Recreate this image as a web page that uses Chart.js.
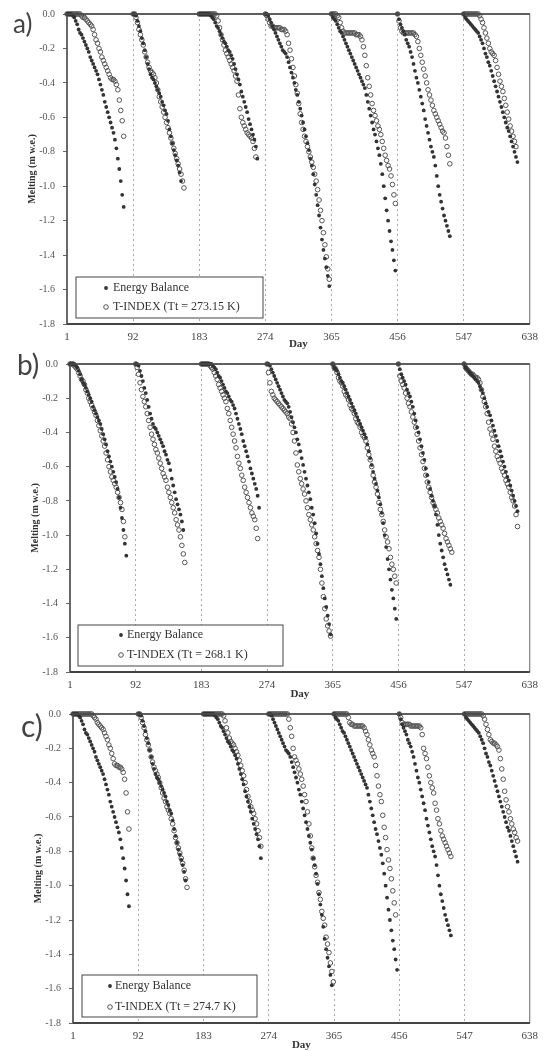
<!DOCTYPE html>
<html>
<head>
<meta charset="utf-8">
<script src="https://cdn.jsdelivr.net/npm/chart.js@4.4.1/dist/chart.umd.min.js"></script>
<style>
  body { margin: 0; background: #fff; width: 545px; height: 1051px; position: relative; overflow: hidden; }
  .panel { position: absolute; left: 0; width: 545px; }
  .tag { position: absolute; font-family: Lato, sans-serif; line-height: 1; color: #444; }
</style>
</head>
<body>
<div class="panel" style="top:0;height:350px"><canvas id="chartA"></canvas></div>
<div class="panel" style="top:350px;height:350px"><canvas id="chartB"></canvas></div>
<div class="panel" style="top:700px;height:351px"><canvas id="chartC"></canvas></div>
<div class="tag" style="left:13px;top:10px;font-size:26px">a)</div>
<div class="tag" style="left:17px;top:350px;font-size:28px">b)</div>
<div class="tag" style="left:21px;top:710px;font-size:30px">c)</div>

<script>
// first day of each melt season on the cumulative day axis
const seasonStart = [1, 92, 183, 274, 365, 456, 547]
// values below are read every 2 days from the season start
const dayStep = 2
const xTicks = [1, 92, 183, 274, 365, 456, 547, 638]

// Energy Balance melting (m w.e.), same in all three panels
const energyBalance = [
  [0, 0, 0, 0, -0.01, -0.02, -0.04, -0.06, -0.09, -0.11, -0.12, -0.14, -0.16, -0.18, -0.20, -0.22, -0.25, -0.27, -0.29, -0.31, -0.33, -0.35, -0.38, -0.41, -0.44, -0.47, -0.51, -0.54, -0.57, -0.60, -0.63, -0.66, -0.69, -0.73, -0.78, -0.84, -0.90, -0.97, -1.05, -1.12],
  [0, 0, -0.01, -0.04, -0.07, -0.10, -0.14, -0.17, -0.21, -0.25, -0.29, -0.32, -0.35, -0.37, -0.38, -0.40, -0.42, -0.44, -0.46, -0.48, -0.51, -0.53, -0.56, -0.58, -0.62, -0.67, -0.71, -0.75, -0.79, -0.82, -0.85, -0.88, -0.92, -0.97],
  [0, 0, 0, 0, 0, 0, 0, 0, -0.01, -0.02, -0.03, -0.05, -0.07, -0.08, -0.10, -0.12, -0.14, -0.16, -0.17, -0.19, -0.21, -0.22, -0.24, -0.26, -0.29, -0.32, -0.35, -0.38, -0.41, -0.45, -0.48, -0.51, -0.54, -0.57, -0.61, -0.64, -0.67, -0.70, -0.73, -0.77, -0.84],
  [0, 0, -0.01, -0.03, -0.05, -0.07, -0.09, -0.11, -0.13, -0.15, -0.17, -0.19, -0.21, -0.22, -0.23, -0.25, -0.28, -0.31, -0.34, -0.37, -0.40, -0.44, -0.47, -0.51, -0.55, -0.59, -0.63, -0.67, -0.71, -0.75, -0.79, -0.84, -0.88, -0.93, -0.99, -1.05, -1.11, -1.17, -1.24, -1.31, -1.37, -1.42, -1.47, -1.52, -1.58],
  [0, -0.02, -0.03, -0.04, -0.06, -0.08, -0.10, -0.11, -0.13, -0.15, -0.17, -0.19, -0.21, -0.23, -0.25, -0.27, -0.29, -0.31, -0.33, -0.35, -0.37, -0.39, -0.41, -0.43, -0.47, -0.51, -0.55, -0.59, -0.63, -0.67, -0.70, -0.74, -0.78, -0.82, -0.87, -0.93, -1.00, -1.07, -1.14, -1.20, -1.26, -1.32, -1.37, -1.43, -1.49],
  [0, -0.03, -0.06, -0.08, -0.10, -0.12, -0.15, -0.17, -0.19, -0.22, -0.25, -0.29, -0.33, -0.37, -0.40, -0.44, -0.48, -0.52, -0.56, -0.61, -0.65, -0.69, -0.73, -0.77, -0.80, -0.83, -0.88, -0.94, -1.00, -1.05, -1.09, -1.13, -1.17, -1.20, -1.23, -1.26, -1.29],
  [0, -0.02, -0.03, -0.04, -0.05, -0.06, -0.07, -0.08, -0.09, -0.10, -0.11, -0.13, -0.15, -0.17, -0.20, -0.23, -0.25, -0.28, -0.30, -0.33, -0.36, -0.39, -0.42, -0.45, -0.48, -0.51, -0.54, -0.57, -0.60, -0.63, -0.66, -0.68, -0.71, -0.74, -0.77, -0.80, -0.83, -0.86]
]

// T-INDEX, Tt = 273.15 K
const tIndexA = [
  [0, 0, 0, 0, 0, 0, 0, 0, 0, 0, -0.01, -0.02, -0.02, -0.03, -0.04, -0.05, -0.06, -0.07, -0.09, -0.12, -0.15, -0.17, -0.20, -0.22, -0.25, -0.27, -0.29, -0.31, -0.33, -0.35, -0.37, -0.38, -0.38, -0.39, -0.41, -0.44, -0.50, -0.56, -0.62, -0.71],
  [0, 0, -0.02, -0.05, -0.09, -0.12, -0.15, -0.18, -0.22, -0.25, -0.28, -0.31, -0.33, -0.34, -0.35, -0.37, -0.40, -0.44, -0.48, -0.51, -0.54, -0.57, -0.60, -0.63, -0.66, -0.69, -0.72, -0.75, -0.78, -0.81, -0.84, -0.87, -0.90, -0.93, -0.97, -1.01],
  [0, 0, 0, 0, 0, 0, 0, 0, 0, 0, 0, 0, -0.01, -0.04, -0.08, -0.12, -0.15, -0.18, -0.21, -0.23, -0.25, -0.27, -0.29, -0.31, -0.33, -0.36, -0.39, -0.47, -0.55, -0.60, -0.63, -0.65, -0.67, -0.69, -0.70, -0.71, -0.72, -0.74, -0.78, -0.83],
  [0, -0.01, -0.03, -0.05, -0.07, -0.07, -0.08, -0.08, -0.08, -0.08, -0.08, -0.09, -0.09, -0.09, -0.10, -0.12, -0.17, -0.21, -0.26, -0.31, -0.36, -0.41, -0.46, -0.52, -0.58, -0.63, -0.67, -0.71, -0.74, -0.77, -0.80, -0.83, -0.86, -0.89, -0.93, -0.97, -1.02, -1.08, -1.14, -1.20, -1.27, -1.34, -1.41, -1.48, -1.54],
  [0, 0, 0, 0, -0.01, -0.02, -0.05, -0.08, -0.10, -0.11, -0.11, -0.11, -0.11, -0.11, -0.11, -0.11, -0.11, -0.12, -0.12, -0.12, -0.13, -0.15, -0.19, -0.24, -0.30, -0.37, -0.42, -0.47, -0.52, -0.56, -0.59, -0.62, -0.65, -0.67, -0.70, -0.74, -0.78, -0.82, -0.85, -0.88, -0.90, -0.94, -0.99, -1.05, -1.10],
  [0, -0.04, -0.08, -0.10, -0.11, -0.11, -0.11, -0.11, -0.11, -0.11, -0.11, -0.11, -0.12, -0.13, -0.16, -0.20, -0.24, -0.28, -0.32, -0.36, -0.40, -0.44, -0.47, -0.50, -0.53, -0.56, -0.58, -0.60, -0.62, -0.64, -0.66, -0.68, -0.69, -0.72, -0.77, -0.82, -0.87],
  [0, 0, 0, 0, 0, 0, 0, 0, 0, 0, 0, -0.01, -0.03, -0.05, -0.08, -0.11, -0.14, -0.17, -0.20, -0.22, -0.23, -0.24, -0.27, -0.31, -0.35, -0.39, -0.42, -0.45, -0.49, -0.53, -0.57, -0.61, -0.65, -0.68, -0.71, -0.74, -0.77]
]

// T-INDEX, Tt = 268.1 K
const tIndexB = [
  [0, 0, 0, -0.01, -0.02, -0.03, -0.05, -0.07, -0.09, -0.10, -0.12, -0.15, -0.17, -0.20, -0.22, -0.24, -0.26, -0.28, -0.30, -0.33, -0.36, -0.39, -0.42, -0.45, -0.48, -0.52, -0.56, -0.60, -0.63, -0.66, -0.68, -0.70, -0.72, -0.75, -0.78, -0.81, -0.85, -0.92, -1.01],
  [0, -0.02, -0.06, -0.11, -0.15, -0.19, -0.22, -0.25, -0.29, -0.33, -0.37, -0.41, -0.44, -0.47, -0.50, -0.52, -0.55, -0.58, -0.61, -0.64, -0.66, -0.68, -0.72, -0.75, -0.78, -0.81, -0.84, -0.87, -0.91, -0.94, -0.97, -1.01, -1.06, -1.11, -1.16],
  [0, 0, 0, 0, 0, 0, -0.01, -0.02, -0.03, -0.05, -0.07, -0.09, -0.12, -0.14, -0.16, -0.18, -0.20, -0.22, -0.26, -0.29, -0.33, -0.37, -0.41, -0.45, -0.49, -0.54, -0.58, -0.61, -0.65, -0.68, -0.72, -0.75, -0.78, -0.81, -0.84, -0.87, -0.89, -0.91, -0.96, -1.02],
  [0, -0.05, -0.11, -0.16, -0.18, -0.20, -0.21, -0.22, -0.23, -0.24, -0.25, -0.26, -0.27, -0.28, -0.29, -0.31, -0.32, -0.35, -0.40, -0.45, -0.52, -0.59, -0.63, -0.67, -0.70, -0.73, -0.76, -0.80, -0.84, -0.88, -0.91, -0.94, -0.97, -1.01, -1.05, -1.09, -1.13, -1.20, -1.28, -1.36, -1.43, -1.49, -1.53, -1.56, -1.59],
  [0, -0.02, -0.03, -0.05, -0.08, -0.10, -0.11, -0.13, -0.16, -0.18, -0.19, -0.21, -0.24, -0.26, -0.27, -0.29, -0.32, -0.34, -0.35, -0.37, -0.40, -0.42, -0.43, -0.45, -0.49, -0.53, -0.56, -0.60, -0.65, -0.69, -0.72, -0.76, -0.81, -0.85, -0.88, -0.92, -0.97, -1.01, -1.04, -1.08, -1.13, -1.17, -1.20, -1.24, -1.28],
  [0, -0.07, -0.10, -0.12, -0.14, -0.17, -0.20, -0.23, -0.25, -0.28, -0.31, -0.34, -0.37, -0.41, -0.45, -0.49, -0.53, -0.57, -0.61, -0.65, -0.69, -0.72, -0.75, -0.78, -0.81, -0.83, -0.85, -0.87, -0.90, -0.92, -0.94, -0.96, -0.99, -1.02, -1.04, -1.06, -1.08, -1.10],
  [0, -0.02, -0.03, -0.04, -0.05, -0.06, -0.06, -0.07, -0.08, -0.08, -0.09, -0.11, -0.15, -0.19, -0.22, -0.25, -0.29, -0.34, -0.38, -0.41, -0.44, -0.48, -0.51, -0.54, -0.56, -0.58, -0.61, -0.63, -0.65, -0.68, -0.70, -0.72, -0.75, -0.78, -0.80, -0.83, -0.88, -0.95]
]

// T-INDEX, Tt = 274.7 K
const tIndexC = [
  [0, 0, 0, 0, 0, 0, 0, 0, 0, 0, 0, 0, 0, 0, -0.01, -0.02, -0.03, -0.05, -0.06, -0.07, -0.08, -0.09, -0.11, -0.13, -0.15, -0.18, -0.20, -0.23, -0.26, -0.29, -0.30, -0.30, -0.31, -0.31, -0.32, -0.34, -0.38, -0.46, -0.57, -0.67],
  [0, 0, -0.02, -0.05, -0.08, -0.12, -0.15, -0.18, -0.21, -0.25, -0.28, -0.31, -0.33, -0.35, -0.37, -0.40, -0.43, -0.46, -0.49, -0.51, -0.54, -0.56, -0.58, -0.61, -0.64, -0.68, -0.72, -0.75, -0.78, -0.81, -0.84, -0.87, -0.91, -0.96, -1.01],
  [0, 0, 0, 0, 0, 0, 0, 0, 0, 0, 0, 0, 0, 0, -0.01, -0.04, -0.08, -0.11, -0.14, -0.16, -0.17, -0.18, -0.20, -0.22, -0.24, -0.27, -0.30, -0.33, -0.36, -0.40, -0.44, -0.48, -0.51, -0.54, -0.56, -0.58, -0.61, -0.64, -0.68, -0.72, -0.77],
  [0, 0, 0, 0, 0, 0, 0, 0, 0, 0, 0, 0, 0, 0, -0.03, -0.08, -0.13, -0.20, -0.25, -0.27, -0.29, -0.32, -0.35, -0.38, -0.42, -0.47, -0.51, -0.57, -0.64, -0.71, -0.78, -0.84, -0.89, -0.94, -0.98, -1.04, -1.08, -1.15, -1.19, -1.23, -1.30, -1.34, -1.39, -1.45, -1.50, -1.56],
  [0, 0, 0, 0, 0, 0, 0, 0, 0, 0, -0.02, -0.05, -0.06, -0.06, -0.07, -0.07, -0.07, -0.07, -0.07, -0.07, -0.07, -0.08, -0.10, -0.12, -0.15, -0.18, -0.21, -0.23, -0.25, -0.30, -0.36, -0.42, -0.47, -0.51, -0.59, -0.66, -0.72, -0.79, -0.85, -0.90, -0.96, -1.03, -1.10, -1.17],
  [0, -0.02, -0.05, -0.06, -0.06, -0.06, -0.06, -0.06, -0.07, -0.07, -0.07, -0.07, -0.07, -0.07, -0.07, -0.08, -0.12, -0.20, -0.23, -0.26, -0.31, -0.36, -0.40, -0.43, -0.46, -0.52, -0.56, -0.61, -0.64, -0.68, -0.71, -0.73, -0.75, -0.77, -0.79, -0.81, -0.83],
  [0, 0, 0, 0, 0, 0, 0, 0, 0, 0, 0, 0, 0, -0.01, -0.03, -0.06, -0.09, -0.12, -0.15, -0.16, -0.17, -0.17, -0.18, -0.19, -0.21, -0.26, -0.32, -0.38, -0.45, -0.50, -0.54, -0.57, -0.61, -0.64, -0.67, -0.69, -0.72, -0.74]
]

const ebLabel = 'Energy Balance'
const tLabels = ['T-INDEX (Tt = 273.15 K)', 'T-INDEX (Tt = 268.1 K)', 'T-INDEX (Tt = 274.7 K)']

function toPoints(seasons) {
  const pts = []
  seasons.forEach((vals, s) => {
    vals.forEach((v, i) => pts.push({ x: seasonStart[s] + i * dayStep, y: v }))
  })
  return pts
}

// plot frame drawn around the chart area
const frame = {
  id: 'frame',
  afterDraw(chart) {
    const { ctx, chartArea: a } = chart
    ctx.save()
    ctx.strokeStyle = '#666'
    ctx.lineWidth = 1
    ctx.strokeRect(a.left, a.top, a.right - a.left, a.bottom - a.top)
    ctx.strokeStyle = '#444'
    ctx.lineWidth = 2
    ctx.beginPath()
    ctx.moveTo(a.left, a.bottom)
    ctx.lineTo(a.right, a.bottom)
    ctx.stroke()
    ctx.lineWidth = 1.3
    ctx.beginPath()
    ctx.moveTo(a.left, a.top)
    ctx.lineTo(a.left, a.bottom)
    ctx.moveTo(a.left, a.top)
    ctx.lineTo(a.right, a.top)
    ctx.stroke()
    ctx.restore()
  }
}

// boxed legend in the lower left corner of the plot
const boxLegend = {
  id: 'boxLegend',
  afterDraw(chart, args, o) {
    const { ctx, chartArea: a } = chart
    const x0 = a.left + o.dx
    const y0 = a.bottom - o.dy
    ctx.save()
    ctx.fillStyle = '#fff'
    ctx.fillRect(x0, y0, o.w, o.h)
    ctx.strokeStyle = '#444'
    ctx.lineWidth = 1
    ctx.strokeRect(x0, y0, o.w, o.h)
    ctx.font = '12px "Liberation Serif"'
    ctx.textBaseline = 'middle'
    chart.data.datasets.forEach((ds, i) => {
      const y = y0 + o.rows[i]
      ctx.beginPath()
      ctx.arc(x0 + o.mx, y, ds.pointRadius, 0, Math.PI * 2)
      if (i === 0) {
        ctx.fillStyle = ds.backgroundColor
        ctx.fill()
      } else {
        ctx.strokeStyle = ds.borderColor
        ctx.lineWidth = ds.borderWidth
        ctx.stroke()
      }
      ctx.fillStyle = '#333'
      ctx.fillText(ds.label, x0 + o.tx, y)
    })
    ctx.restore()
  }
}

function makePanel(id, tIndex, tLabel, pad, legend) {
  const ctx = document.getElementById(id).getContext('2d')
  return new Chart(ctx, {
    type: 'scatter',
    data: {
      datasets: [
        {
          label: ebLabel,
          data: toPoints(energyBalance),
          pointRadius: 1.9,
          pointBorderWidth: 0,
          backgroundColor: '#333',
          borderColor: '#333',
          clip: false
        },
        {
          label: tLabel,
          data: toPoints(tIndex),
          pointRadius: 2.3,
          borderWidth: 1,
          borderColor: '#555',
          backgroundColor: 'rgba(255,255,255,0)',
          clip: false
        }
      ]
    },
    options: {
      responsive: true,
      maintainAspectRatio: false,
      animation: false,
      events: [],
      layout: { padding: pad },
      plugins: {
        legend: { display: false },
        tooltip: { enabled: false },
        boxLegend: legend
      },
      scales: {
        x: {
          type: 'linear',
          min: 1,
          max: 638,
          afterFit: (s) => { s.height = pad.axisH },
          afterBuildTicks: (s) => { s.ticks = xTicks.map(v => ({ value: v })) },
          grid: {
            drawTicks: false,
            color: (c) => (c.tick && (c.tick.value === 1 || c.tick.value === 638)) ? 'rgba(0,0,0,0)' : '#aaa',
            lineWidth: 1
          },
          border: { display: false, dash: [2, 3] },
          ticks: {
            autoSkip: false,
            maxRotation: 0,
            padding: 7,
            color: '#444',
            font: { family: 'Liberation Serif', size: 11 }
          },
          title: {
            display: true,
            text: 'Day',
            color: '#333',
            padding: { top: 0, bottom: 0 },
            font: { family: 'Liberation Serif', size: 11, weight: 'bold', lineHeight: 1.1 }
          }
        },
        y: {
          min: -1.8,
          max: 0,
          afterFit: (s) => { s.width = 45 },
          grid: { drawOnChartArea: false, drawTicks: true, tickLength: 4, color: '#666' },
          border: { display: false },
          ticks: {
            stepSize: 0.2,
            padding: 8,
            color: '#555',
            font: { family: 'Liberation Serif', size: 10 },
            callback: (v) => v.toFixed(1)
          },
          title: {
            display: true,
            text: 'Melting (m w.e.)',
            color: '#333',
            padding: { top: 4, bottom: 0 },
            font: { family: 'Liberation Serif', size: 10, weight: 'bold', lineHeight: 1.2 }
          }
        }
      }
    },
    plugins: [frame, boxLegend]
  })
}

makePanel('chartA', tIndexA, tLabels[0],
  { left: 22, right: 15, top: 14, bottom: 0, axisH: 26 },
  { dx: 9, dy: 47, w: 187, h: 41, mx: 30, tx: 37, rows: [11, 30] })
makePanel('chartB', tIndexB, tLabels[1],
  { left: 25, right: 11, top: 13, bottom: 0, axisH: 28 },
  { dx: 8, dy: 47, w: 205, h: 41, mx: 43, tx: 49, rows: [10, 30] })
makePanel('chartC', tIndexC, tLabels[2],
  { left: 28, right: 7, top: 13, bottom: 0, axisH: 28 },
  { dx: 9, dy: 48, w: 175, h: 42, mx: 28, tx: 33, rows: [11, 32] })
</script>
</body>
</html>
